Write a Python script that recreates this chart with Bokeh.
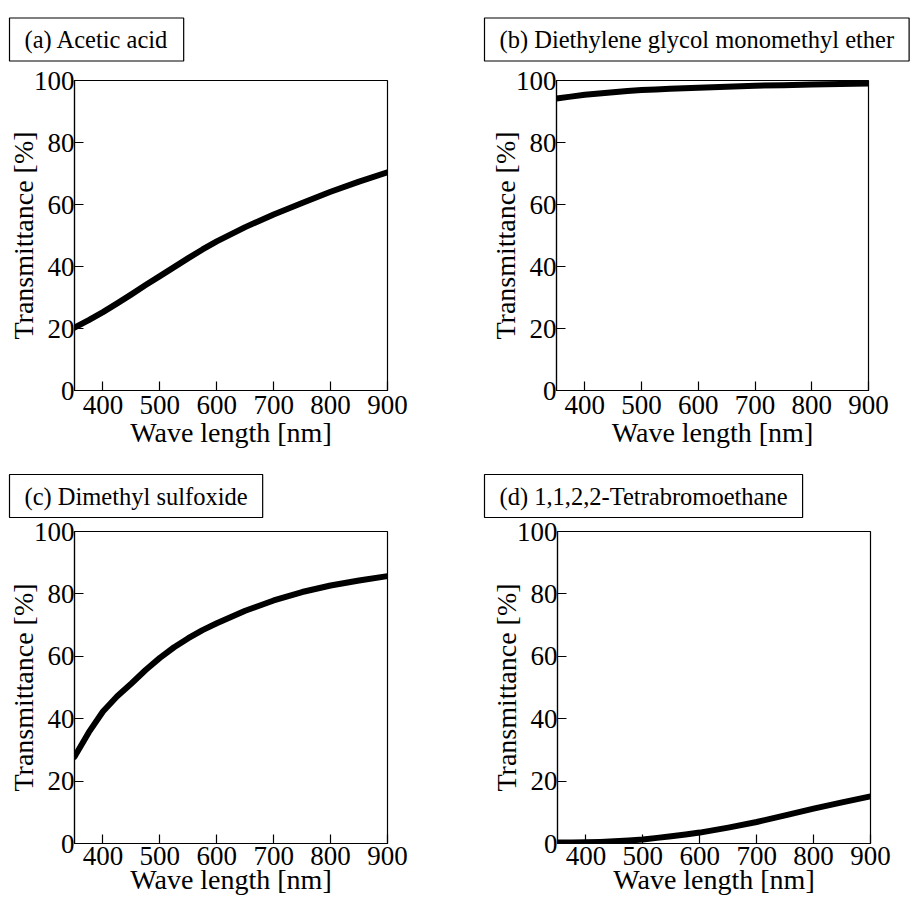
from bokeh.plotting import figure
from bokeh.layouts import column, row
from bokeh.models import Range1d, FixedTicker, Title
from bokeh.embed import file_html
from bokeh.resources import INLINE

# ---------------- data ----------------
wavelength = [350, 375, 400, 425, 450, 475, 500, 525, 550, 575, 600, 650, 700, 750, 800, 850, 900]
acetic_acid = [20.3, 22.7, 25.3, 28.1, 31.0, 34.0, 36.9, 39.8, 42.7, 45.5, 48.1, 52.7, 56.8, 60.5, 64.1, 67.4, 70.4]
diethylene_glycol = [94.2, 94.8, 95.4, 95.8, 96.2, 96.6, 96.9, 97.1, 97.3, 97.5, 97.7, 98.0, 98.3, 98.5, 98.7, 98.9, 99.0]
dimethyl_sulfoxide = [27.8, 35.6, 42.3, 47.2, 51.3, 55.6, 59.5, 62.9, 65.8, 68.4, 70.6, 74.6, 77.9, 80.6, 82.7, 84.3, 85.7]
tetrabromoethane = [0.3, 0.35, 0.4, 0.5, 0.7, 0.95, 1.3, 1.8, 2.3, 2.9, 3.5, 5.1, 6.9, 9.0, 11.2, 13.2, 15.1]

titles = ["(a) Acetic acid", "(b) Diethylene glycol monomethyl ether",
          "(c) Dimethyl sulfoxide", "(d) 1,1,2,2-Tetrabromoethane"]
x_ticks = [400, 500, 600, 700, 800, 900]
y_ticks = [0, 20, 40, 60, 80, 100]
x_label = "Wave length [nm]"
y_label = "Transmittance [%]"

FONT = "Liberation Serif"


def make_panel(title, values, w, h, bl, br, bt, bb, t_offset, t_standoff,
               tick_standoff, label_standoff):
    p = figure(width=w, height=h, output_backend="svg", toolbar_location=None,
               x_range=Range1d(350, 900), y_range=Range1d(0, 100),
               min_border_left=bl, min_border_right=br,
               min_border_top=bt, min_border_bottom=bb)
    p.background_fill_color = "white"
    p.border_fill_color = "white"
    p.outline_line_color = "black"
    p.outline_line_width = 1.2
    p.xgrid.visible = False
    p.ygrid.visible = False

    p.line(wavelength, values, line_width=6, line_color="black",
           line_cap="round", line_join="round")

    for ax, ticks in ((p.xaxis[0], x_ticks), (p.yaxis[0], y_ticks)):
        ax.ticker = FixedTicker(ticks=ticks)
        ax.major_tick_in = 9
        ax.major_tick_out = 0
        ax.minor_tick_line_color = None
        ax.axis_line_color = "black"
        ax.axis_line_width = 1.2
        ax.major_tick_line_color = "black"
        ax.major_tick_line_width = 1.2
        ax.major_label_text_font = FONT
        ax.major_label_text_font_size = "27px"
        ax.major_label_text_color = "black"
        ax.axis_label_text_font = FONT
        ax.axis_label_text_font_size = "28px"
        ax.axis_label_text_font_style = "normal"
        ax.axis_label_text_color = "black"

    p.xaxis.axis_label = x_label
    p.yaxis.axis_label = y_label
    p.xaxis.major_label_standoff = tick_standoff
    p.xaxis.axis_label_standoff = label_standoff
    p.yaxis.major_label_standoff = 0
    p.yaxis.axis_label_standoff = -8

    p.title = Title(text=title, align="left", vertical_align="top",
                    offset=t_offset, standoff=t_standoff,
                    text_font=FONT, text_font_size="24.5px", text_font_style="normal",
                    text_color="black", border_line_color="black",
                    border_line_width=1.2, background_fill_color="white",
                    padding=(15, 8))
    return p


# figure sizes / borders (pixels): width, height, left, right, top, bottom
pa = make_panel(titles[0], acetic_acid, 470, 462, 74, 83, 79, 72, -65, 35, 5, 0)
pb = make_panel(titles[1], diethylene_glycol, 444, 462, 86, 46, 79, 72, -72, 35, 5, 0)
pc = make_panel(titles[2], dimethyl_sulfoxide, 470, 435, 74, 83, 68, 54, -65, 24, 3, -4)
pd = make_panel(titles[3], tetrabromoethane, 444, 435, 87, 44, 68, 54, -73, 24, 3, -4)

layout = column(row(pa, pb, spacing=0), row(pc, pd, spacing=0), spacing=0)

open("out.html", "w").write(file_html(layout, INLINE))
